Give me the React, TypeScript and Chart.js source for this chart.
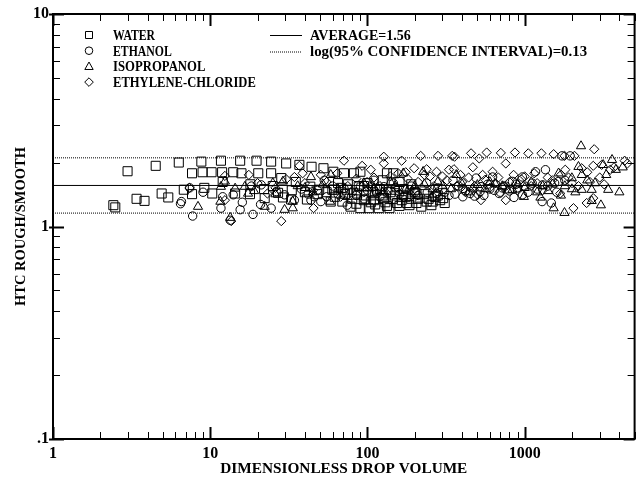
import React, { useEffect, useRef } from 'react';
import { Chart, registerables } from 'chart.js';

Chart.register(...registerables);

const FONT = "'Liberation Serif', 'Times New Roman', serif";

const xTickLabels = ['1', '10', '100', '1000'];
const yTickLabels = ['.1', '1', '10'];
const xTitle = 'DIMENSIONLESS DROP VOLUME';
const yTitle = 'HTC ROUGH/SMOOTH';
const seriesNames = ['WATER', 'ETHANOL', 'ISOPROPANOL', 'ETHYLENE-CHLORIDE'];
const averageValue = 1.56;
const logConfidence = 0.13;
const averageLabel = 'AVERAGE=1.56';
const confidenceLabel = 'log(95% CONFIDENCE INTERVAL)=0.13';
const xMin = 1;
const xMax = 5000;
const yMin = 0.1;
const yMax = 10;

const waterX = [2.42, 2.49, 2.98, 3.4, 3.82, 4.5, 4.91, 5.41, 6.31, 6.79, 7.66, 7.66, 8.78, 8.94, 9.17, 10.2, 10.3, 11.7, 11.9, 14.0, 15.5, 15.8, 14.4, 17.9, 19.7, 20.2, 24.4, 24.4, 22.2, 30.4, 28.3, 29.0, 32.7, 36.9, 44.1, 43.3, 41.2, 52.5, 49.3, 60.7, 58.4, 59.8, 69.2, 78, 90.2, 102, 118, 133, 94.8, 110, 127, 146, 133, 82, 90.2, 70.9, 154, 178, 205, 238, 255, 303, 169, 205, 61.3, 74.4, 115, 86, 65, 75, 95, 120, 140, 170, 200, 230, 280, 18, 12, 25, 35,
  55, 62, 68, 72, 80, 85, 88, 98, 105, 108, 112, 125, 130, 138, 145, 150, 160, 165, 175, 185, 190, 210, 220, 245, 260, 270, 290, 310, 48, 40, 33, 27, 22, 100, 125, 160, 190];
const waterY = [1.26, 1.23, 1.82, 1.35, 1.32, 1.93, 1.43, 1.37, 2.0, 1.49, 1.42, 1.78, 2.02, 1.8, 1.52, 1.8, 1.43, 2.04, 1.8, 1.8, 2.04, 1.78, 1.43, 1.42, 2.04, 1.78, 2.02, 1.78, 1.36, 1.98, 1.69, 1.37, 1.34, 1.95, 1.91, 1.54, 1.34, 1.88, 1.49, 1.81, 1.31, 1.49, 1.31, 1.24, 1.22, 1.22, 1.22, 1.25, 1.33, 1.33, 1.36, 1.78, 1.78, 1.78, 1.81, 1.78, 1.29, 1.29, 1.29, 1.31, 1.26, 1.36, 1.41, 1.43, 1.49, 1.49, 1.49, 1.43, 1.6, 1.58, 1.55, 1.5, 1.45, 1.5, 1.45, 1.42, 1.4, 1.58, 1.62, 1.55, 1.62,
  1.45, 1.38, 1.52, 1.42, 1.35, 1.28, 1.55, 1.4, 1.3, 1.45, 1.27, 1.4, 1.3, 1.22, 1.35, 1.4, 1.25, 1.33, 1.38, 1.26, 1.35, 1.35, 1.24, 1.35, 1.31, 1.38, 1.33, 1.29, 1.42, 1.45, 1.48, 1.44, 1.5, 1.6, 1.65, 1.62, 1.58];

const ethanolX = [6.56, 6.47, 7.73, 7.41, 11.7, 13.4, 15.5, 14.0, 18.7, 20.9, 24.4, 26.3, 29.7, 34.3, 18.3, 21.1, 43.7, 45.9, 53.1, 50.5, 74.4, 115, 127, 186, 275, 404, 479, 688, 855, 966, 1291, 1477, 1726, 1946, 1355, 1172, 966, 625, 491, 350, 238, 146, 110, 90.2, 404, 70.9, 527, 836, 1116, 1643, 300, 200, 160, 420, 600, 750, 900, 1300, 700, 330, 260, 100, 80, 60, 38, 12, 9, 16,
  42, 48, 55, 65, 85, 95, 105, 120, 135, 150, 170, 190, 210, 240, 280, 310, 360, 380, 450, 520, 550, 580, 640, 720, 800, 880, 1000, 1050, 1200, 1400, 1550, 1600, 1800];
const ethanolY = [1.31, 1.28, 1.12, 1.52, 1.22, 1.07, 1.2, 1.41, 1.14, 1.27, 1.22, 1.46, 1.41, 1.33, 1.55, 1.57, 1.33, 1.38, 1.65, 1.31, 1.26, 1.43, 1.54, 1.49, 1.43, 1.38, 1.39, 1.43, 1.37, 1.41, 1.31, 1.29, 2.15, 2.15, 1.85, 1.81, 1.71, 1.71, 1.69, 1.65, 1.6, 1.6, 1.65, 1.54, 1.51, 1.51, 1.54, 1.63, 1.6, 1.63, 1.5, 1.45, 1.42, 1.47, 1.5, 1.55, 1.52, 1.57, 1.45, 1.4, 1.37, 1.48, 1.45, 1.55, 1.5, 1.38, 1.45, 1.3,
  1.42, 1.48, 1.38, 1.42, 1.4, 1.35, 1.55, 1.38, 1.47, 1.52, 1.38, 1.55, 1.4, 1.45, 1.52, 1.45, 1.42, 1.55, 1.43, 1.46, 1.4, 1.58, 1.48, 1.52, 1.47, 1.58, 1.55, 1.45, 1.5, 1.55, 1.6, 1.45, 1.65];

const isopropanolX = [8.36, 11.6, 11.7, 12.4, 13.4, 14.4, 16.6, 17.4, 22.2, 29.0, 29.7, 33.5, 33.5, 43.7, 58.4, 2282, 3594, 3155, 2197, 2306, 1995, 3396, 2667, 2306, 1995, 1409, 1259, 1528, 1791, 3052, 2667, 169, 226, 57.8, 988, 836, 367, 468, 94.8, 74.4, 1643, 150, 230, 300, 500, 650, 1100, 1300, 2500, 4000, 3800, 1800, 40, 25,
  45, 52, 65, 85, 110, 125, 140, 175, 200, 260, 280, 340, 400, 440, 560, 600, 720, 780, 900, 1000, 1200, 1500, 1700, 2100, 2800, 3300, 4200, 19, 26, 36];
const isopropanolY = [1.24, 1.31, 1.54, 1.63, 1.1, 1.51, 1.54, 1.43, 1.24, 1.63, 1.2, 1.22, 1.31, 1.71, 1.75, 2.39, 2.06, 1.95, 1.91, 1.75, 1.69, 1.49, 1.49, 1.49, 1.5, 1.47, 1.37, 1.22, 1.16, 1.26, 1.32, 1.78, 1.81, 1.31, 1.38, 1.49, 1.75, 1.51, 1.6, 1.38, 1.78, 1.55, 1.58, 1.55, 1.57, 1.58, 1.62, 1.55, 1.65, 1.45, 1.85, 1.55, 1.52, 1.6,
  1.45, 1.58, 1.5, 1.45, 1.52, 1.45, 1.62, 1.5, 1.55, 1.5, 1.62, 1.5, 1.58, 1.45, 1.5, 1.62, 1.55, 1.48, 1.58, 1.52, 1.45, 1.58, 1.4, 1.45, 1.6, 1.75, 1.9, 1.47, 1.42, 1.55];

const ethyleneX = [7.37, 12.4, 12.4, 17.6, 13.6, 23.1, 28.3, 36.9, 38.7, 30.4, 45.4, 50.5, 34.3, 70.9, 92.5, 127, 127, 165, 218, 198, 238, 281, 346, 358, 355, 456, 514, 573, 468, 705, 867, 758, 1054, 1277, 1528, 1791, 2072, 2768, 2729, 3084, 4322, 1811, 2306, 625, 527, 758, 1683, 2042, 2478, 2729, 157, 275, 99.4, 64.3, 67.5, 503, 110, 180, 250, 320, 400, 560, 650, 800, 950, 1200, 1400, 1700, 2500, 3500, 200, 420, 130, 2000, 1100, 3000, 4500, 3700,
  55, 75, 85, 95, 105, 120, 140, 155, 175, 210, 230, 265, 300, 330, 370, 390, 440, 480, 540, 600, 680, 730, 850, 900, 1000, 1150, 1300, 1500, 1900, 2200, 2600, 3200, 20, 26, 40, 45];
const ethyleneY = [1.52, 1.33, 1.73, 1.75, 1.06, 1.43, 1.06, 1.93, 1.78, 1.67, 1.22, 1.75, 1.71, 2.04, 1.93, 2.13, 1.98, 2.04, 2.15, 1.88, 1.86, 2.15, 2.15, 2.13, 1.86, 2.21, 2.09, 2.23, 1.9, 2.22, 2.23, 1.98, 2.21, 2.21, 2.19, 2.15, 2.15, 2.31, 1.93, 1.95, 2.04, 1.85, 1.88, 1.81, 1.33, 1.33, 1.43, 1.22, 1.29, 1.36, 1.78, 1.81, 1.62, 1.78, 1.38, 1.41, 1.7, 1.68, 1.72, 1.65, 1.62, 1.66, 1.6, 1.62, 1.67, 1.6, 1.7, 1.75, 1.8, 1.85, 1.5, 1.45, 1.45, 1.6, 1.55, 1.7, 1.98, 1.9,
  1.62, 1.55, 1.68, 1.45, 1.85, 1.55, 1.72, 1.52, 1.8, 1.62, 1.75, 1.55, 1.72, 1.85, 1.55, 1.75, 1.7, 1.55, 1.75, 1.52, 1.7, 1.55, 1.75, 1.48, 1.72, 1.78, 1.48, 1.65, 1.7, 1.55, 1.62, 1.58, 1.6, 1.52, 1.6, 1.48];

const pointStyles = ['rect', 'circle', 'triangle', 'rectRot'];
const pointRadii = [6.4, 4.2, 5.3, 4.6];

function toPoints(xs: number[], ys: number[]) {
  return xs.map((x, i) => ({ x, y: ys[i] }));
}

function drawMarker(ctx: CanvasRenderingContext2D, style: string, x: number, y: number, s: number) {
  ctx.beginPath();
  if (style === 'rect') {
    ctx.rect(x - s, y - s, 2 * s, 2 * s);
  } else if (style === 'circle') {
    ctx.arc(x, y, s, 0, Math.PI * 2);
  } else if (style === 'triangle') {
    const h = s * 1.1;
    ctx.moveTo(x, y - h);
    ctx.lineTo(x + h * 0.95, y + h * 0.7);
    ctx.lineTo(x - h * 0.95, y + h * 0.7);
    ctx.closePath();
  } else {
    ctx.moveTo(x, y - s - 0.5);
    ctx.lineTo(x + s + 0.5, y);
    ctx.lineTo(x, y + s + 0.5);
    ctx.lineTo(x - s - 0.5, y);
    ctx.closePath();
  }
  ctx.stroke();
}

const framePlugin = {
  id: 'framePlugin',
  afterDatasetsDraw(chart: any) {
    const ctx: CanvasRenderingContext2D = chart.ctx;
    const { left, right, top, bottom } = chart.chartArea;
    const xs = chart.scales.x;
    const ys = chart.scales.y;
    ctx.save();
    ctx.strokeStyle = '#000';
    for (let e = 0; e <= 3; e++) {
      for (let m = 1; m <= 9; m++) {
        const v = m * Math.pow(10, e);
        if (v < xMin || v > xMax) continue;
        const px = Math.round(xs.getPixelForValue(v)) + 0.5;
        const major = m === 1;
        const len = major ? 12 : 7;
        ctx.lineWidth = major ? 2 : 1;
        ctx.beginPath();
        ctx.moveTo(px, bottom);
        ctx.lineTo(px, bottom - len);
        ctx.moveTo(px, top);
        ctx.lineTo(px, top + len);
        ctx.stroke();
      }
    }
    for (let e = -1; e <= 1; e++) {
      for (let m = 1; m <= 9; m++) {
        const v = m * Math.pow(10, e);
        if (v < yMin || v > yMax) continue;
        const py = Math.round(ys.getPixelForValue(v)) + 0.5;
        const major = m === 1;
        const len = major ? 11 : 7;
        ctx.lineWidth = major ? 2 : 1;
        ctx.beginPath();
        ctx.moveTo(major ? left - 4 : left, py);
        ctx.lineTo(left + len, py);
        ctx.moveTo(right, py);
        ctx.lineTo(right - len, py);
        ctx.stroke();
      }
    }
    ctx.lineWidth = 2;
    ctx.strokeRect(left, top, right - left, bottom - top);

    // legend
    ctx.lineWidth = 1;
    ctx.fillStyle = '#000';
    ctx.font = `bold 15px ${FONT}`;
    ctx.textBaseline = 'middle';
    ctx.textAlign = 'left';
    const mx = left + 36;
    const tx = left + 60;
    const legendSizes = [3.5, 3.8, 4, 3.8];
    const cell = 8.4;
    seriesNames.forEach((name, i) => {
      const yy = top + 21 + i * 15.7;
      drawMarker(ctx, pointStyles[i], mx, yy, legendSizes[i]);
      ctx.fillText(name, tx, yy + 1, name.length * cell);
    });
    const lx0 = left + 217;
    const lx1 = left + 249;
    const ltx = left + 257;
    let yy = top + 21;
    ctx.beginPath();
    ctx.moveTo(lx0, yy + 0.5);
    ctx.lineTo(lx1, yy + 0.5);
    ctx.stroke();
    ctx.fillText(averageLabel, ltx, yy + 1, averageLabel.length * cell);
    yy = top + 37.5;
    ctx.setLineDash([1, 1]);
    ctx.beginPath();
    ctx.moveTo(lx0, yy + 0.5);
    ctx.lineTo(lx1, yy + 0.5);
    ctx.stroke();
    ctx.setLineDash([]);
    ctx.fillText(confidenceLabel, ltx, yy + 1, confidenceLabel.length * cell);
    ctx.restore();
  },
};

function tickLabel(value: number, labels: string[], offset: number) {
  const lg = Math.log10(value);
  const r = Math.round(lg);
  if (Math.abs(lg - r) > 1e-6) return '';
  return labels[r + offset] ?? '';
}

export default function App() {
  const canvasRef = useRef<HTMLCanvasElement | null>(null);

  useEffect(() => {
    const canvas = canvasRef.current;
    if (!canvas) return;
    const upper = averageValue * Math.pow(10, logConfidence);
    const lower = averageValue / Math.pow(10, logConfidence);
    const seriesX = [waterX, ethanolX, isopropanolX, ethyleneX];
    const seriesY = [waterY, ethanolY, isopropanolY, ethyleneY];
    const scatterSets = seriesNames.map((name, i) => ({
      type: 'scatter' as const,
      label: name,
      data: toPoints(seriesX[i], seriesY[i]),
      pointStyle: pointStyles[i],
      pointRadius: pointRadii[i],
      pointBorderWidth: 1,
      pointBorderColor: '#000',
      pointBackgroundColor: 'rgba(0,0,0,0)',
      showLine: false,
      order: 1,
    }));
    const lineSets = [
      { value: averageValue, dash: [] as number[], label: averageLabel },
      { value: upper, dash: [1, 1], label: 'upper' },
      { value: lower, dash: [1, 1], label: 'lower' },
    ].map((l) => ({
      type: 'line' as const,
      label: l.label,
      data: [
        { x: xMin, y: l.value },
        { x: xMax, y: l.value },
      ],
      borderColor: '#000',
      borderWidth: 1,
      borderDash: l.dash,
      pointRadius: 0,
      fill: false,
      order: 2,
    }));

    const chart = new Chart(canvas, {
      type: 'scatter',
      data: { datasets: [...lineSets, ...scatterSets] as any },
      options: {
        responsive: false,
        animation: false,
        devicePixelRatio: 1,
        layout: { padding: { top: 14, right: 2, left: 0, bottom: 0 } },
        plugins: { legend: { display: false }, tooltip: { enabled: false } },
        scales: {
          x: {
            type: 'logarithmic',
            min: xMin,
            max: xMax,
            position: 'bottom',
            grid: { display: false, drawTicks: false },
            border: { display: false },
            ticks: {
              autoSkip: false,
              maxRotation: 0,
              padding: 5,
              color: '#000',
              font: { family: FONT, size: 16, weight: 'bold' },
              callback: (v: any) => tickLabel(Number(v), xTickLabels, 0),
            },
            title: {
              display: true,
              text: xTitle,
              color: '#000',
              font: { family: FONT, size: 15.3, weight: 'bold' },
              padding: { top: 0, bottom: 3 },
            },
            afterFit: (scale: any) => {
              scale.height = 42;
            },
          },
          y: {
            type: 'logarithmic',
            min: yMin,
            max: yMax,
            position: 'left',
            grid: { display: false, drawTicks: false },
            border: { display: false },
            ticks: {
              autoSkip: false,
              padding: 4,
              color: '#000',
              font: { family: FONT, size: 16, weight: 'bold' },
              callback: (v: any) => tickLabel(Number(v), yTickLabels, 1),
            },
            title: {
              display: true,
              text: yTitle,
              color: '#000',
              font: { family: FONT, size: 14.5, weight: 'bold' },
              padding: { top: 13, bottom: 0 },
            },
            afterFit: (scale: any) => {
              scale.width = 53;
            },
          },
        },
      } as any,
      plugins: [framePlugin],
    });
    return () => chart.destroy();
  }, []);

  return (
    <div style={{ position: 'absolute', left: 0, top: 0, width: 642, height: 481, background: '#fff' }}>
      <canvas ref={canvasRef} width={642} height={481} style={{ display: 'block' }} />
    </div>
  );
}
